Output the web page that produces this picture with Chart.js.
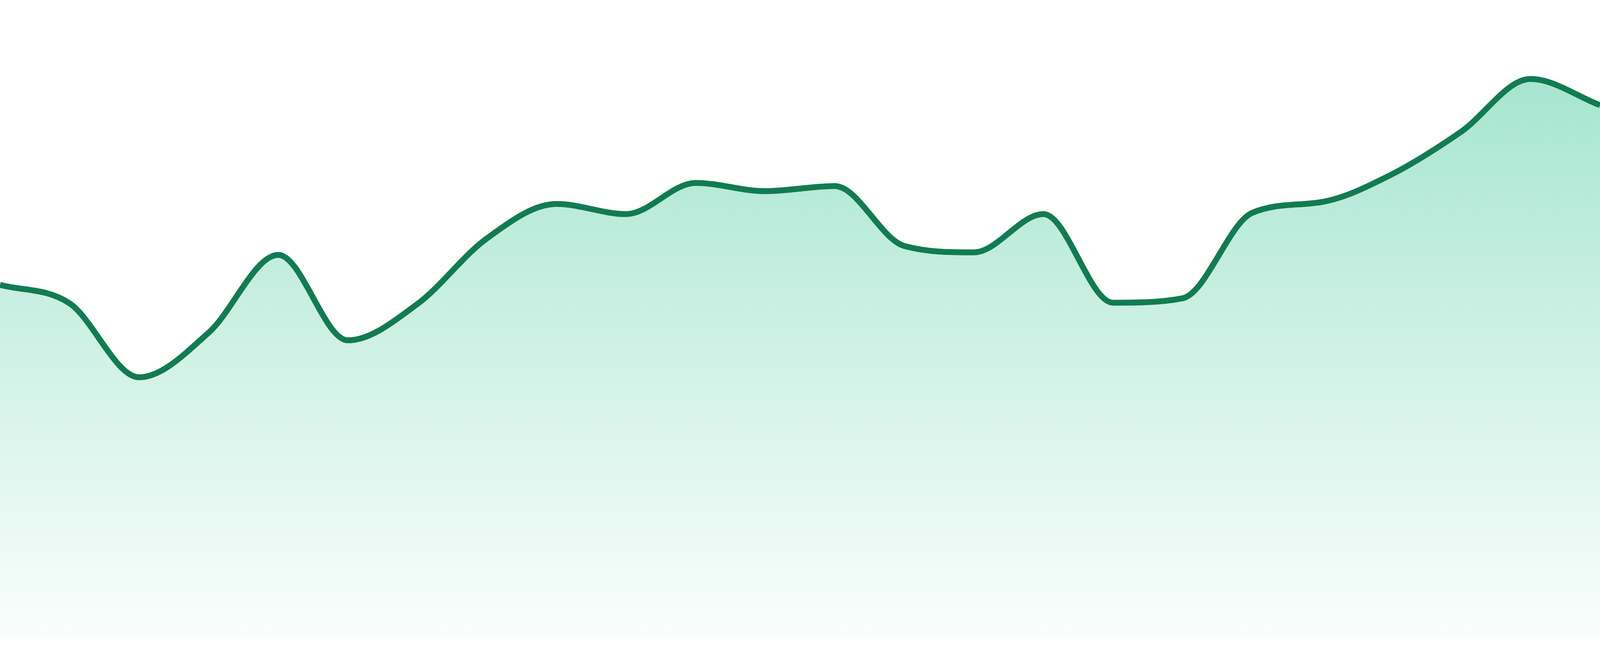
<!DOCTYPE html>
<html>
<head>
<meta charset="utf-8">
<script src="https://cdn.jsdelivr.net/npm/chart.js@4"></script>
<style>
  html, body { margin: 0; padding: 0; background: #fff; overflow: hidden; }
  #wrap { width: 100vw; height: 100vh; position: relative; }
</style>
</head>
<body>
<div id="wrap"><canvas id="chart-area"></canvas></div>
<script>
// 24 evenly spaced samples, no visible axis labels
const LABELS = ['1','2','3','4','5','6','7','8','9','10','11','12','13','14','15','16','17','18','19','20','21','22','23','24'];
const VALUES = [55.3, 52.4, 40.8, 47.8, 60.0, 46.6, 52.3, 62.6, 68.0, 66.4, 71.3, 70.0,
                70.8, 61.4, 60.4, 66.4, 52.5, 53.2, 66.6, 68.3, 72.6, 79.3, 87.6, 83.5];
const Y_RANGE = [0, 100];

const LINE_COLOR = '#127b52';

// sizes were measured on a 1680px tall picture, scale them to the real viewport
const k = window.innerHeight / 1680;

// vertical fade of the fill, top -> bottom of chart area
function fillGradient(ctx) {
  const area = ctx.chart.chartArea;
  if (!area) return 'rgba(16,185,129,0.2)';
  const g = ctx.chart.ctx.createLinearGradient(0, area.top, 0, area.bottom);
  g.addColorStop(0, 'rgba(16,185,129,0.42)');
  g.addColorStop(1, 'rgba(16,185,129,0.02)');
  return g;
}

new Chart(document.getElementById('chart-area').getContext('2d'), {
  type: 'line',
  data: {
    labels: LABELS,
    datasets: [{
      data: VALUES,
      borderColor: LINE_COLOR,
      borderWidth: 15 * k,
      backgroundColor: fillGradient,
      fill: 'start',
      cubicInterpolationMode: 'monotone',
      pointRadius: 0,
      pointHoverRadius: 0
    }]
  },
  options: {
    responsive: true,
    maintainAspectRatio: false,
    animation: false,
    layout: { padding: { top: 0, bottom: 48 * k, left: 0, right: 0 } },
    plugins: { legend: { display: false }, tooltip: { enabled: false } },
    scales: {
      x: { display: false, offset: false },
      y: { display: false, min: Y_RANGE[0], max: Y_RANGE[1] }
    }
  }
});
</script>
</body>
</html>
